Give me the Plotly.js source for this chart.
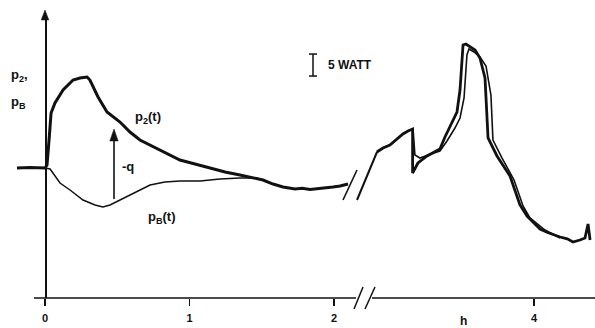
<!DOCTYPE html>
<html>
<head>
<meta charset="utf-8">
<script src="https://cdn.plot.ly/plotly-3.0.1.min.js"></script>
<style>html,body{margin:0;padding:0;background:#fff;}#chart{width:595px;height:328px;}</style>
</head>
<body>
<div id="chart"></div>
<script>
// time in hours, power in watts (relative to baseline)
const p2Time = [-0.194,-0.104,0,0.014,0.028,0.042,0.069,0.125,0.194,0.242,0.291,0.311,0.367,0.429,0.519,0.588,0.657,0.727,0.830,0.934,1.038,1.142,1.246,1.349,1.419,1.474,1.509,1.578,1.647,1.730,1.780,1.834,1.903,1.950,1.993,2.042,2.097];
const p2Watt = [0,0.1,0,0.68,6.36,12.5,14.77,17.73,20.0,20.45,20.68,20.0,16.14,12.73,10.45,8.18,6.36,5.23,3.41,1.82,0.91,0,-0.91,-1.59,-2.05,-2.5,-2.73,-3.64,-4.32,-4.77,-4.6,-4.9,-4.7,-4.5,-4.32,-4.09,-3.64];

const pBTime = [-0.194,0,0.035,0.055,0.083,0.104,0.173,0.263,0.346,0.401,0.450,0.519,0.588,0.657,0.727,0.830,0.934,1.073,1.211,1.349,1.474];
const pBWatt = [0,0,-0.23,-1.14,-2.5,-3.41,-5.0,-7.27,-8.41,-8.86,-8.41,-7.27,-6.14,-5.0,-3.86,-3.18,-2.95,-2.95,-2.5,-2.27,-2.27];

const p2LateTime = [2.913,2.955,3.003,3.038,3.093,3.128,3.160,3.160,3.176,3.197,3.260,3.315,3.349,3.384,3.433,3.467,3.488,3.509,3.529,3.557,3.592,3.626,3.661,3.682,3.744,3.834,3.903,3.952,4.000,4.042,4.090,4.140,4.180,4.230,4.270,4.318,4.353,4.374,4.388];
const p2LateWatt = [3.64,4.55,5.23,6.14,7.73,8.41,8.86,-1.14,0,1.14,2.73,3.64,4.32,7.05,10.45,12.73,17.73,27.95,28.18,27.5,26.82,25.0,20.45,6.82,2.73,-1.82,-8.41,-10.91,-12.6,-13.86,-14.6,-15.3,-15.68,-16.1,-16.82,-16.36,-15.91,-12.73,-16.36];

const pBLateTime = [2.913,2.955,3.003,3.038,3.093,3.128,3.163,3.176,3.211,3.266,3.349,3.398,3.453,3.488,3.516,3.536,3.550,3.585,3.626,3.668,3.702,3.716,3.779,3.862,3.924,3.972,4.076,4.180];
const pBLateWatt = [3.64,4.55,5.23,6.14,7.73,8.41,8.86,2.95,2.27,2.95,3.86,6.14,9.09,11.36,15.91,25.68,27.05,26.36,25.23,23.18,16.59,6.36,2.27,-2.73,-8.64,-11.36,-14.09,-15.91];

const earlyTicks = [0, 1, 2];
const lateTicks = [4];
const scaleBarWatt = 5;

const ink = '#111';
const fontFam = 'Liberation Sans, Arial, Helvetica, sans-serif';

const traces = [
  {x: pBTime, y: pBWatt, xaxis: 'x', yaxis: 'y', mode: 'lines', line: {color: ink, width: 1.5}, hoverinfo: 'skip'},
  {x: p2Time, y: p2Watt, xaxis: 'x', yaxis: 'y', mode: 'lines', line: {color: ink, width: 3}, hoverinfo: 'skip'},
  {x: pBLateTime, y: pBLateWatt, xaxis: 'x2', yaxis: 'y', mode: 'lines', line: {color: ink, width: 1.6}, hoverinfo: 'skip'},
  {x: p2LateTime, y: p2LateWatt, xaxis: 'x2', yaxis: 'y', mode: 'lines', line: {color: ink, width: 2.8}, hoverinfo: 'skip'}
];

const W = 595, H = 328;
const px = v => v / W;
const py = v => 1 - v / H;
const tri = (cx, tipY, baseY, hw) =>
  'M ' + px(cx) + ',' + py(tipY) + ' L ' + px(cx - hw) + ',' + py(baseY) + ' L ' + px(cx + hw) + ',' + py(baseY) + ' Z';

const axisFont = {family: fontFam, size: 11, color: ink, weight: 'bold'};
const lineShape = (x0, y0, x1, y1, w) => ({type: 'line', xref: 'paper', yref: 'paper', x0: px(x0), y0: py(y0), x1: px(x1), y1: py(y1), line: {color: ink, width: w}});

const layout = {
  width: W, height: H,
  margin: {l: 0, r: 0, t: 0, b: 0},
  paper_bgcolor: '#fff', plot_bgcolor: 'rgba(0,0,0,0)',
  showlegend: false,
  xaxis: {
    domain: [px(10), px(355)], range: [-0.2422, 2.1453],
    showgrid: false, zeroline: false, showline: false,
    tickmode: 'array', tickvals: earlyTicks, ticktext: earlyTicks.map(String),
    ticks: 'outside', ticklen: 7, tickwidth: 1.5, tickcolor: ink, ticklabelstandoff: 3,
    tickfont: axisFont, anchor: 'y'
  },
  xaxis2: {
    domain: [px(355), 1], range: [2.7613, 4.4222],
    showgrid: false, zeroline: false, showline: false,
    tickmode: 'array', tickvals: lateTicks, ticktext: lateTicks.map(String),
    ticks: 'outside', ticklen: 7, tickwidth: 1.5, tickcolor: ink, ticklabelstandoff: 3,
    tickfont: axisFont, anchor: 'y'
  },
  yaxis: {
    domain: [(H - 298) / H, (H - 18) / H], range: [-29.545, 34.09],
    showgrid: false, zeroline: false, showline: true, linewidth: 1.5, linecolor: ink,
    ticks: '', showticklabels: false, anchor: 'free', position: px(45)
  },
  shapes: [
    // x axis baseline, interrupted by the break
    lineShape(34, 298, 356, 298, 1.5),
    lineShape(372, 298, 595, 298, 1.5),
    // break marks on axis
    lineShape(354, 309, 363, 287, 1.5),
    lineShape(365, 309, 375, 287, 1.5),
    // break marks on curve
    lineShape(343, 200, 357, 170, 1.6),
    lineShape(357, 200, 377, 152, 2),
    // y axis arrow head
    {type: 'path', xref: 'paper', yref: 'paper', path: tri(45, 10, 20, 3.8), fillcolor: ink, line: {color: ink, width: 0.5}},
    // -q arrow
    lineShape(114, 199, 114, 138, 1.6),
    {type: 'path', xref: 'paper', yref: 'paper', path: tri(114, 129, 141, 4.2), fillcolor: ink, line: {color: ink, width: 0.5}},
    // 5 W scale bar
    {type: 'line', xref: 'x', yref: 'y', x0: 1.8547, x1: 1.8547, y0: 20.9, y1: 20.9 + scaleBarWatt, line: {color: ink, width: 1.5}},
    {type: 'line', xref: 'x', yref: 'y', x0: 1.8270, x1: 1.8824, y0: 20.9, y1: 20.9, line: {color: ink, width: 1.5}},
    {type: 'line', xref: 'x', yref: 'y', x0: 1.8270, x1: 1.8824, y0: 20.9 + scaleBarWatt, y1: 20.9 + scaleBarWatt, line: {color: ink, width: 1.5}}
  ],
  annotations: [
    {xref: 'paper', yref: 'paper', x: px(9), y: py(75), xanchor: 'left', yanchor: 'middle', text: '<b>p<sub>2</sub>,</b>', showarrow: false, font: {family: fontFam, size: 13, color: ink}},
    {xref: 'paper', yref: 'paper', x: px(9), y: py(102), xanchor: 'left', yanchor: 'middle', text: '<b>p<sub>B</sub></b>', showarrow: false, font: {family: fontFam, size: 13, color: ink}},
    {xref: 'paper', yref: 'paper', x: px(133), y: py(117), xanchor: 'left', yanchor: 'middle', text: '<b>p<sub>2</sub>(t)</b>', showarrow: false, font: {family: fontFam, size: 13, color: ink}},
    {xref: 'paper', yref: 'paper', x: px(146), y: py(217), xanchor: 'left', yanchor: 'middle', text: '<b>p<sub>B</sub>(t)</b>', showarrow: false, font: {family: fontFam, size: 13, color: ink}},
    {xref: 'paper', yref: 'paper', x: px(120), y: py(166), xanchor: 'left', yanchor: 'middle', text: '<b>-q</b>', showarrow: false, font: {family: fontFam, size: 13, color: ink}},
    {xref: 'paper', yref: 'paper', x: px(326), y: py(65), xanchor: 'left', yanchor: 'middle', text: '<b>5 WATT</b>', showarrow: false, font: {family: fontFam, size: 12, color: ink}},
    {xref: 'paper', yref: 'paper', x: px(463), y: py(321), xanchor: 'center', yanchor: 'middle', text: '<b>h</b>', showarrow: false, font: {family: fontFam, size: 12, color: ink}}
  ]
};

Plotly.newPlot('chart', traces, layout, {displayModeBar: false, staticPlot: true});
</script>
</body>
</html>
